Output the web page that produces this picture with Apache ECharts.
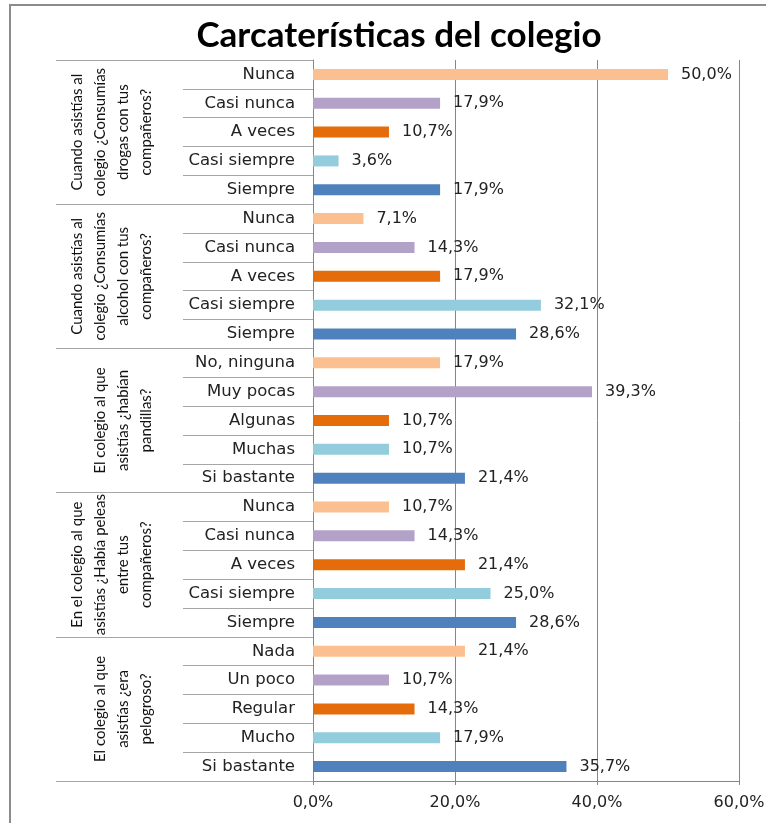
<!DOCTYPE html>
<html>
<head>
<meta charset="utf-8">
<title>Carcaterísticas del colegio</title>
<script src="https://cdn.jsdelivr.net/npm/echarts@6/dist/echarts.min.js"></script>
<style>
 html, body { margin: 0; padding: 0; background: #fff; }
 #chart { width: 766px; height: 823px; }
</style>
</head>
<body>
<div id="chart"></div>
<script>
// preguntas (grupos), de arriba hacia abajo
const groupNames = [
 'Cuando asistías al\ncolegio ¿Consumías\ndrogas con tus\ncompañeros?',
 'Cuando asistías al\ncolegio ¿Consumías\nalcohol con tus\ncompañeros?',
 'El colegio al que\nasistías ¿habían\npandillas?',
 'En el colegio al que\nasistías ¿Había peleas\nentre tus\ncompañeros?',
 'El colegio al que\nasistías ¿era\npelogroso?'
]

// respuestas de cada pregunta
const drogasLabels = ['Nunca', 'Casi nunca', 'A veces', 'Casi siempre', 'Siempre']
const alcoholLabels = ['Nunca', 'Casi nunca', 'A veces', 'Casi siempre', 'Siempre']
const pandillasLabels = ['No, ninguna', 'Muy pocas', 'Algunas', 'Muchas', 'Si bastante']
const peleasLabels = ['Nunca', 'Casi nunca', 'A veces', 'Casi siempre', 'Siempre']
const peligrosoLabels = ['Nada', 'Un poco', 'Regular', 'Mucho', 'Si bastante']

// porcentajes
const drogasValues = [50.0, 17.9, 10.7, 3.6, 17.9]
const alcoholValues = [7.1, 14.3, 17.9, 32.1, 28.6]
const pandillasValues = [17.9, 39.3, 10.7, 10.7, 21.4]
const peleasValues = [10.7, 14.3, 21.4, 25.0, 28.6]
const peligrosoValues = [21.4, 10.7, 14.3, 17.9, 35.7]

const xTicks = [0, 20, 40, 60]

const barColors = ['#FAC090', '#B3A2C7', '#E46C0A', '#93CDDD', '#4F81BD']

const categories = [].concat(drogasLabels, alcoholLabels, pandillasLabels, peleasLabels, peligrosoLabels)
const values = [].concat(drogasValues, alcoholValues, pandillasValues, peleasValues, peligrosoValues)

const pct = v => v.toFixed(1).replace('.', ',') + '%'

const chart = echarts.init(document.getElementById('chart'))

const option = {
 animation: false,
 backgroundColor: '#fff',
 title: {
 text: 'Carcaterísticas del colegio',
 left: 394,
 top: 13,
 textAlign: 'center',
 textStyle: { fontFamily: 'Lato', fontWeight: 'bold', fontSize: 35, color: '#000' }
 },
 graphic: [{
 type: 'polyline',
 shape: { points: [[10, 823], [10, 5], [766, 5]] },
 style: { stroke: '#8c8c8c', lineWidth: 2, fill: null }
 }],
 grid: {
 left: 313,
 right: 27,
 top: 60,
 bottom: 42,
 containLabel: false,
 outerBoundsMode: 'none'
 },
 xAxis: {
 type: 'value',
 min: xTicks[0],
 max: xTicks[xTicks.length - 1],
 interval: xTicks[1] - xTicks[0],
 axisLine: { show: true, lineStyle: { color: '#868686', width: 1 } },
 axisTick: { show: true, length: 4, lineStyle: { color: '#868686' } },
 splitLine: { show: true, lineStyle: { color: '#868686', width: 1 } },
 axisLabel: {
 formatter: pct,
 margin: 14,
 fontFamily: 'DejaVu Sans',
 fontSize: 16,
 color: '#222'
 }
 },
 yAxis: [{
 type: 'category',
 inverse: true,
 data: categories,
 axisLine: { show: true, lineStyle: { color: '#868686' } },
 axisTick: { show: true, interval: 0, length: 130, lineStyle: { color: '#a6a6a6' } },
 axisLabel: {
 interval: 0,
 margin: 18,
 fontFamily: 'DejaVu Sans',
 fontSize: 16.5,
 color: '#222'
 }
 }, {
 type: 'category',
 inverse: true,
 position: 'left',
 data: groupNames,
 axisLine: { show: false },
 axisTick: { show: true, interval: 0, length: 257, lineStyle: { color: '#a6a6a6' } },
 axisLabel: {
 interval: 0,
 rotate: 90,
 margin: 155,
 fontFamily: 'Lato',
 fontSize: 15,
 lineHeight: 23,
 color: '#111'
 }
 }],
 series: [{
 type: 'bar',
 yAxisIndex: 0,
 data: values,
 barWidth: 11,
 itemStyle: { color: p => barColors[p.dataIndex % barColors.length] },
 label: {
 show: true,
 position: 'right',
 distance: 13,
 formatter: p => pct(p.value),
 fontFamily: 'DejaVu Sans',
 fontSize: 16,
 color: '#222'
 }
 }]
}

chart.setOption(option)
window.addEventListener('resize', () => chart.resize())
</script>
</body>
</html>
